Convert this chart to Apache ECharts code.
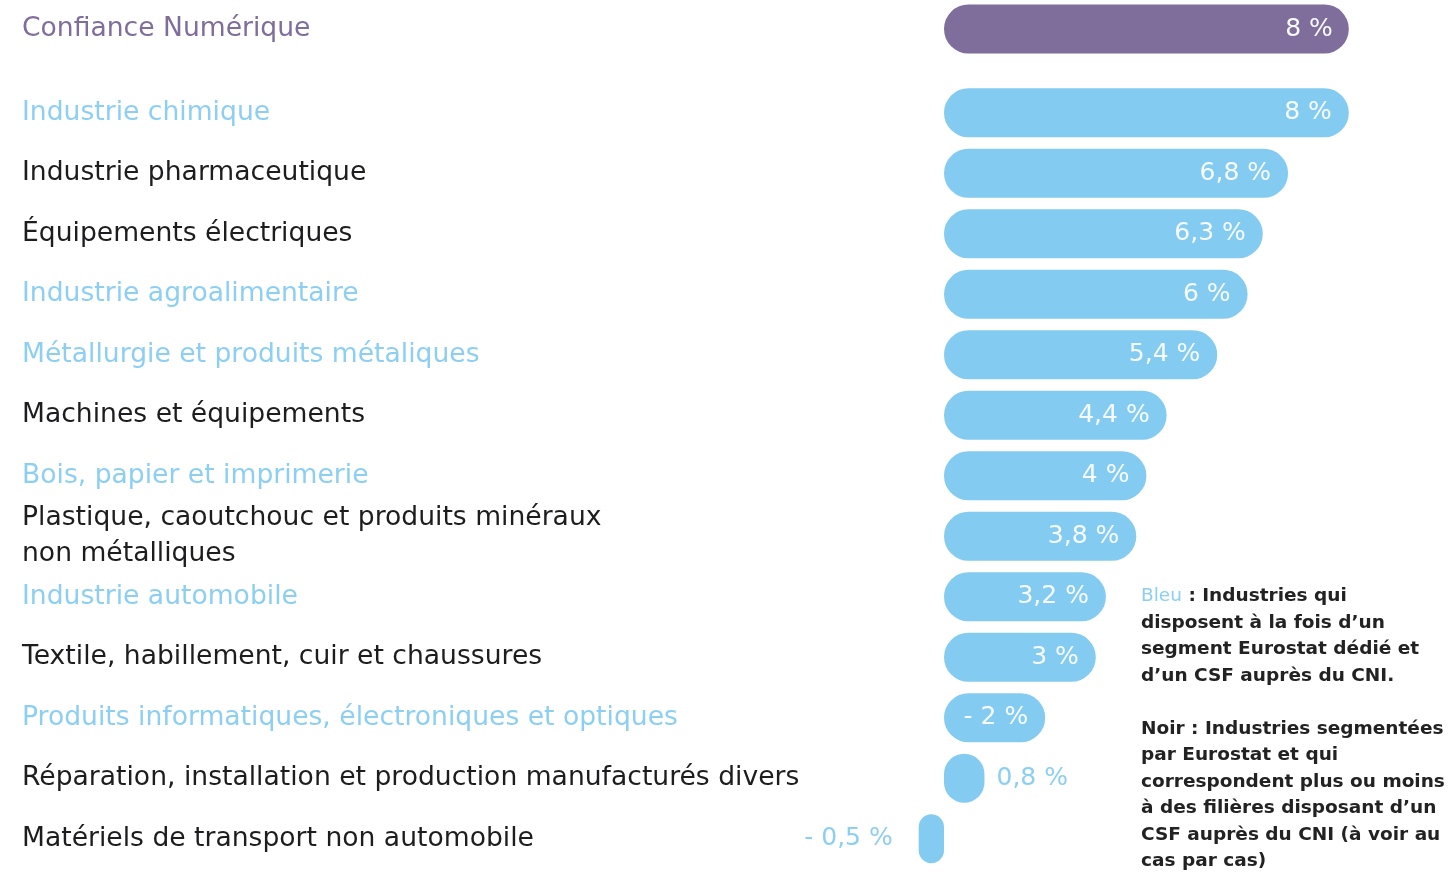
<!DOCTYPE html>
<html>
<head>
<meta charset="utf-8">
<script src="https://cdn.jsdelivr.net/npm/echarts@6/dist/echarts.min.js"></script>
<style>
    html, body { margin: 0; padding: 0; background: #fff; }
    #main { width: 1454px; height: 873px; }
</style>
</head>
<body>
<div id="main"></div>
<script>
// top row (purple)
const topCategory = ['Confiance Numérique'];
const topValues = [8];
const topLabels = ['8 %'];

// industries
const categories = [
    'Industrie chimique',
    'Industrie pharmaceutique',
    'Équipements électriques',
    'Industrie agroalimentaire',
    'Métallurgie et produits métaliques',
    'Machines et équipements',
    'Bois, papier et imprimerie',
    'Plastique, caoutchouc et produits minéraux\nnon métalliques',
    'Industrie automobile',
    'Textile, habillement, cuir et chaussures',
    'Produits informatiques, électroniques et optiques',
    'Réparation, installation et production manufacturés divers',
    'Matériels de transport non automobile'
];
const values = [8, 6.8, 6.3, 6, 5.4, 4.4, 4, 3.8, 3.2, 3, 2, 0.8, -0.5];
const valueLabels = ['8 %', '6,8 %', '6,3 %', '6 %', '5,4 %', '4,4 %', '4 %', '3,8 %', '3,2 %', '3 %', '- 2 %', '0,8 %', '- 0,5 %'];
// 'blue' = segment Eurostat + CSF, 'black' = the others
const groups = ['blue', 'black', 'black', 'blue', 'blue', 'black', 'blue', 'black', 'blue', 'black', 'blue', 'black', 'black'];

const PURPLE = '#7f6d9c';
const BLUE = '#84cbf1';
const BLUE_TEXT = '#8ccff3';
const BLACK = '#1d1d1f';
const FONT = 'DejaVu Sans';

document.addEventListener('DOMContentLoaded', init);

function init() {
    drawChart();
}

function drawChart() {
    let myChart = echarts.init(document.getElementById('main'));

    const gridLeft = 893.4;
    const labelMargin = gridLeft - 22;

    const xAxisBase = {
        type: 'value',
        min: -1,
        max: 9,
        show: false
    };

    function yAxisFor(idx, data, colorFn) {
        return {
            type: 'category',
            gridIndex: idx,
            inverse: true,
            data: data,
            axisLine: { show: false },
            axisTick: { show: false },
            splitLine: { show: false },
            axisLabel: {
                align: 'left',
                margin: labelMargin,
                fontFamily: FONT,
                fontSize: 26.6,
                lineHeight: 36,
                color: colorFn
            }
        };
    }

    const barData = values.map((v, i) => {
        let label = {
            show: true,
            position: 'insideRight',
            distance: 17,
            color: '#f7fbff',
            formatter: valueLabels[i]
        };
        if (v < 1 && v >= 0) {
            label = { show: true, position: 'right', distance: 12, color: BLUE_TEXT, formatter: valueLabels[i] };
        } else if (v < 0) {
            label = { show: true, position: 'left', distance: 26, color: BLUE_TEXT, formatter: valueLabels[i] };
        }
        return { value: v, label: label };
    });

    let option = {
        animation: false,
        backgroundColor: '#ffffff',
        textStyle: { fontFamily: FONT },
        grid: [
            { left: gridLeft, right: 54.6, top: 1, height: 56, containLabel: false, outerBoundsMode: 'none' },
            { left: gridLeft, right: 54.6, top: 82.5, height: 786.5, containLabel: false, outerBoundsMode: 'none' }
        ],
        xAxis: [
            Object.assign({ gridIndex: 0 }, xAxisBase),
            Object.assign({ gridIndex: 1 }, xAxisBase)
        ],
        yAxis: [
            yAxisFor(0, topCategory, function () { return PURPLE; }),
            yAxisFor(1, categories, function (value, index) {
                return groups[index] === 'blue' ? BLUE_TEXT : BLACK;
            })
        ],
        series: [
            {
                type: 'bar',
                xAxisIndex: 0,
                yAxisIndex: 0,
                barWidth: 49,
                data: topValues,
                itemStyle: { color: PURPLE, borderRadius: 25 },
                label: {
                    show: true,
                    position: 'insideRight',
                    distance: 16,
                    color: '#f7fbff',
                    fontFamily: FONT,
                    fontSize: 25,
                    formatter: function (p) { return topLabels[p.dataIndex]; }
                }
            },
            {
                type: 'bar',
                xAxisIndex: 1,
                yAxisIndex: 1,
                barWidth: 49,
                data: barData,
                itemStyle: { color: BLUE, borderRadius: 25 },
                label: {
                    show: true,
                    fontFamily: FONT,
                    fontSize: 25
                }
            }
        ],
        graphic: [
            {
                type: 'text',
                left: 1141,
                top: 583,
                style: {
                    text: [
                        '{b|Bleu} : Industries qui',
                        'disposent à la fois d’un',
                        'segment Eurostat dédié et',
                        'd’un CSF auprès du CNI.',
                        '',
                        'Noir : Industries segmentées',
                        'par Eurostat et qui',
                        'correspondent plus ou moins',
                        'à des filières disposant d’un',
                        'CSF auprès du CNI (à voir au',
                        'cas par cas)'
                    ].join('\n'),
                    fontFamily: FONT,
                    fontSize: 18.5,
                    fontWeight: 'bold',
                    lineHeight: 26.5,
                    fill: '#222222',
                    rich: {
                        b: { fill: BLUE_TEXT, fontFamily: FONT, fontSize: 18.5, fontWeight: 'normal', lineHeight: 26.5 }
                    }
                }
            }
        ]
    };

    myChart.setOption(option);
}
</script>
</body>
</html>
